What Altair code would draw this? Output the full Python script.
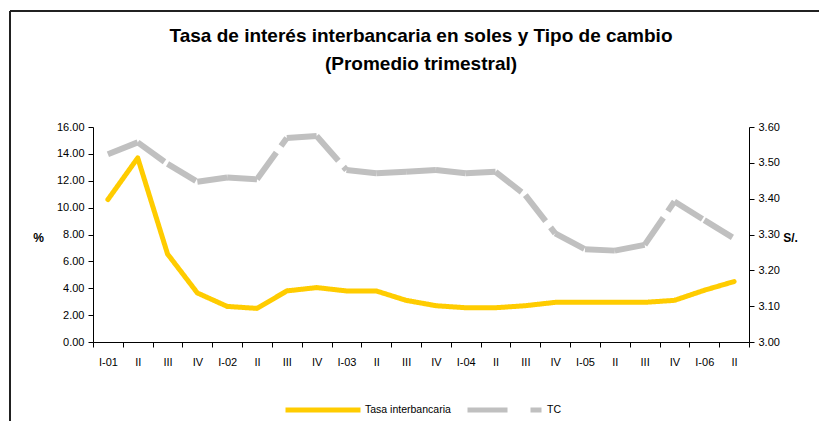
import altair as alt
import pandas as pd

# ---- data ----
tick_labels = ["I-01", "II", "III", "IV", "I-02", "II", "III", "IV",
               "I-03", "II", "III", "IV", "I-04", "II", "III", "IV",
               "I-05", "II", "III", "IV", "I-06", "II"]
tasa = [10.6, 13.7, 6.55, 3.65, 2.65, 2.5, 3.8, 4.05, 3.8, 3.8, 3.1, 2.7,
        2.55, 2.55, 2.7, 2.95, 2.95, 2.95, 2.95, 3.1, 3.85, 4.5]
tc = [3.524, 3.557, 3.497, 3.447, 3.459, 3.454, 3.569, 3.575, 3.48, 3.471,
      3.475, 3.48, 3.471, 3.475, 3.41, 3.303, 3.259, 3.255, 3.271, 3.392,
      3.34, 3.289]
series = ["Tasa interbancaria", "TC"]
left_ticks = [0, 2, 4, 6, 8, 10, 12, 14, 16]
right_ticks = [3.0, 3.1, 3.2, 3.3, 3.4, 3.5, 3.6]

df_tasa = pd.DataFrame({"q": list(range(len(tasa))), "serie": series[0], "value": tasa})

# the TC line is dashed segment by segment (pattern restarts at each point)
seg_rows = []
for k in range(len(tc) - 1):
    seg_rows.append({"q": k, "seg": k, "serie": series[1], "value": tc[k]})
    seg_rows.append({"q": k + 1, "seg": k, "serie": series[1], "value": tc[k + 1]})
df_tc = pd.DataFrame(seg_rows)

label_js = "[" + ",".join("'%s'" % t for t in tick_labels) + "][datum.value]"

FONT = "Liberation Sans"
AX = "#000000"

x_enc = alt.X(
    "q:O",
    scale=alt.Scale(type="band", paddingInner=0, paddingOuter=0),
    axis=alt.Axis(
        title=None, labelExpr=label_js, labelAngle=0, tickBand="extent",
        labelFont=FONT, labelFontSize=11, labelColor=AX, labelPadding=9,
        tickSize=5, tickColor=AX, domainColor=AX, grid=False,
    ),
)

color_enc = alt.Color(
    "serie:N",
    scale=alt.Scale(domain=series, range=["#FFCC00", "#C0C0C0"]),
    legend=alt.Legend(
        title=None, orient="none", direction="horizontal",
        legendX=190, legendY=243, symbolType="stroke", symbolSize=5625,
        symbolStrokeWidth=5, labelFont=FONT, labelFontSize=10.5,
        labelColor=AX, labelOffset=2, columnPadding=6,
    ),
)
dash_enc = alt.StrokeDash(
    "serie:N",
    scale=alt.Scale(domain=series, range=[[1, 0], [40, 23, 11, 1000]]),
    legend=None,
)

line_tasa = alt.Chart(df_tasa).mark_line(
    strokeWidth=5, strokeCap="round", strokeJoin="round"
).encode(
    x=x_enc,
    y=alt.Y(
        "value:Q",
        scale=alt.Scale(domain=[0, 16], nice=False, zero=False),
        axis=alt.Axis(
            title="%", titleAngle=0, titleX=-55, titleY=110,
            titleAlign="center", titleBaseline="middle", titleFont=FONT,
            titleFontSize=12, titleFontWeight="bold", titleColor=AX,
            values=left_ticks, format=".2f", labelFont=FONT,
            labelFontSize=11, labelColor=AX, labelPadding=4, tickSize=5,
            tickColor=AX, domainColor=AX, grid=False, orient="left",
        ),
    ),
    color=color_enc,
    strokeDash=dash_enc,
)

line_tc = alt.Chart(df_tc).mark_line(
    strokeWidth=6, strokeCap="butt", strokeJoin="miter", strokeDash=[33, 8]
).encode(
    x=x_enc,
    y=alt.Y(
        "value:Q",
        scale=alt.Scale(domain=[3.0, 3.6], nice=False, zero=False),
        axis=alt.Axis(
            title="S/.", titleAngle=0, titleX=41, titleY=110,
            titleAlign="center", titleBaseline="middle", titleFont=FONT,
            titleFontSize=12, titleFontWeight="bold", titleColor=AX,
            values=right_ticks, format=".2f", labelFont=FONT,
            labelFontSize=11, labelColor=AX, labelPadding=4, tickSize=5,
            tickColor=AX, domainColor=AX, grid=False, orient="right",
        ),
    ),
    color=color_enc,
    detail="seg:N",
)

frame_left = alt.Chart(df_tasa).mark_rule(color="#222222", strokeWidth=1.5).encode(
    x=alt.value(-83), y=alt.value(-116), y2=alt.value(300)
)
frame_top = alt.Chart(df_tasa).mark_rule(color="#222222", strokeWidth=1.5).encode(
    x=alt.value(-83), x2=alt.value(800), y=alt.value(-116)
)

chart = alt.layer(frame_left, frame_top, line_tasa, line_tc).resolve_scale(
    y="independent"
).properties(
    width=656,
    height=215,
    autosize=alt.AutoSizeParams(type="none"),
    padding={"left": 85, "top": 119, "right": 70, "bottom": 79},
    title=alt.TitleParams(
        text=["Tasa de interés interbancaria en soles y Tipo de cambio",
              "(Promedio trimestral)"],
        font=FONT, fontSize=19, fontWeight="bold", color=AX,
        lineHeight=28, anchor="middle", frame="group", offset=-64,
    ),
).configure(
    background="white",
    view={"stroke": "transparent", "strokeWidth": 0},
    style={"cell": {"stroke": "transparent", "strokeWidth": 0}},
)

chart.save("out.html", embed_options={"renderer": "svg", "actions": False})
